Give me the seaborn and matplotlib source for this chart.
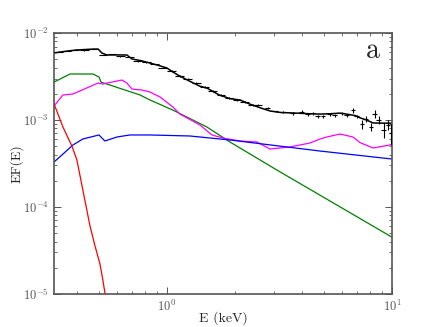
import numpy as np
import pandas as pd
import matplotlib
matplotlib.use("Agg")
import matplotlib.pyplot as plt
import seaborn as sns

# model components (E in keV, EF(E))
total_E = [0.315, 0.36, 0.398, 0.45, 0.494, 0.514, 0.541, 0.60, 0.664, 0.699, 0.77, 0.84,
           0.93, 1.0, 1.063, 1.14, 1.26, 1.40, 1.506, 1.70, 1.905, 2.11, 2.34, 2.6, 2.87,
           3.2, 3.78, 4.3, 4.79, 5.3, 5.87, 6.4, 6.9, 7.21, 7.7, 8.24, 9.0, 9.8, 10.0]
total_F = [5.9e-3, 6.2e-3, 6.38e-3, 6.5e-3, 6.55e-3, 5.89e-3, 5.59e-3, 5.6e-3, 5.59e-3, 5.03e-3, 4.8e-3, 4.52e-3,
           4.2e-3, 3.96e-3, 3.56e-3, 3.2e-3, 2.8e-3, 2.45e-3, 2.33e-3, 1.95e-3, 1.76e-3, 1.70e-3, 1.52e-3, 1.38e-3, 1.27e-3,
           1.22e-3, 1.20e-3, 1.18e-3, 1.17e-3, 1.18e-3, 1.20e-3, 1.16e-3, 1.12e-3, 1.06e-3, 1.0e-3, 9.25e-4, 9.2e-4, 9.2e-4, 9.2e-4]

green_E = [0.315, 0.371, 0.469, 0.499, 0.509, 0.541, 0.759, 0.84, 1.063, 1.506, 1.905, 3.08, 10.0]
green_F = [2.73e-3, 3.38e-3, 3.38e-3, 3.12e-3, 2.73e-3, 2.59e-3, 1.94e-3, 1.70e-3, 1.30e-3, 8.3e-4, 5.59e-4, 2.66e-4, 4.5e-5]

magenta_E = [0.315, 0.345, 0.382, 0.494, 0.519, 0.541, 0.631, 0.664, 0.699, 0.774, 0.84, 0.931, 1.063, 1.142,
             1.402, 1.585, 1.774, 2.11, 2.51, 2.87, 3.52, 4.32, 4.79, 5.14, 5.87, 6.71, 7.21, 8.24, 9.8, 10.0]
magenta_F = [1.45e-3, 1.94e-3, 1.99e-3, 2.66e-3, 2.59e-3, 2.66e-3, 2.88e-3, 2.66e-3, 2.27e-3, 2.21e-3, 2.10e-3, 1.84e-3, 1.41e-3, 1.17e-3,
             8.77e-4, 6.73e-4, 6.21e-4, 5.74e-4, 5.59e-4, 4.64e-4, 4.90e-4, 5.44e-4, 6.05e-4, 6.38e-4, 6.9e-4, 6.38e-4, 5.5e-4, 4.77e-4, 5.16e-4, 5.3e-4]

blue_E = [0.315, 0.35, 0.382, 0.423, 0.499, 0.514, 0.53, 0.60, 0.685, 0.84, 1.265, 1.905, 4.79, 10.0]
blue_F = [3.29e-4, 4.2e-4, 5.16e-4, 6.05e-4, 6.73e-4, 6.21e-4, 5.74e-4, 6.38e-4, 6.73e-4, 6.73e-4, 6.55e-4, 5.89e-4, 4.40e-4, 3.56e-4]

red_E = [0.315, 0.345, 0.378, 0.398, 0.428, 0.455, 0.479, 0.504, 0.519, 0.53, 0.536]
red_F = [1.53e-3, 8.3e-4, 5.03e-4, 3.47e-4, 1.34e-4, 6.05e-5, 3.56e-5, 2.21e-5, 1.45e-5, 1.03e-5, 8.5e-6]

# data points
data_E = [0.33, 0.36, 0.39, 0.43, 0.47, 0.52, 0.57, 0.62, 0.68, 0.74, 0.81, 0.88, 0.96, 1.05,
          1.14, 1.24, 1.35, 1.47, 1.60, 1.74, 1.89, 2.05, 2.22, 2.40, 2.54, 2.81, 3.04, 3.28,
          3.63, 3.98, 4.23, 4.46, 4.69, 4.94, 5.30, 5.58, 5.99, 6.31, 6.71, 6.99, 7.36, 7.66,
          8.07, 8.40, 8.75, 9.21, 9.6, 9.9]
data_F = [6.1e-3, 6.2e-3, 6.45e-3, 6.3e-3, 6.6e-3, 5.6e-3, 5.75e-3, 5.4e-3, 5.3e-3, 4.75e-3, 4.6e-3, 4.4e-3, 4.0e-3, 3.7e-3,
          3.2e-3, 2.95e-3, 2.65e-3, 2.4e-3, 2.15e-3, 1.95e-3, 1.78e-3, 1.68e-3, 1.62e-3, 1.48e-3, 1.49e-3, 1.37e-3, 1.26e-3, 1.24e-3,
          1.20e-3, 1.24e-3, 1.17e-3, 1.20e-3, 1.11e-3, 1.11e-3, 1.17e-3, 1.14e-3, 1.20e-3, 1.14e-3, 1.30e-3, 1.11e-3, 9.0e-4, 1.03e-3,
          8.3e-4, 1.17e-3, 1.0e-3, 7.7e-4, 8.8e-4, 7.1e-4]
data_relerr = [0.01] * 14 + [0.02] * 14 + [0.04] * 10 + [0.07, 0.04, 0.12, 0.08, 0.11, 0.11, 0.1, 0.2, 0.13, 0.27]
data_halfbin = [0.045] * 25 + [0.025] * 23

sns.set_style("ticks")
plt.rcParams["font.family"] = ["cmr10", "DejaVu Serif"]
plt.rcParams["mathtext.fontset"] = "cm"
plt.rcParams["axes.formatter.use_mathtext"] = True

fig, ax = plt.subplots(figsize=(4.36, 3.27), dpi=100)
fig.subplots_adjust(left=0.124, right=0.899, bottom=0.101, top=0.899)

E = np.array(data_E)
F = np.array(data_F)
ax.errorbar(E, F, xerr=E * np.array(data_halfbin), yerr=F * np.array(data_relerr),
            fmt="none", ecolor="black", elinewidth=0.8, capsize=0, zorder=3)

curves = [(total_E, total_F, "black", 1.1), (green_E, green_F, "green", 0.9),
          (magenta_E, magenta_F, "magenta", 0.9), (blue_E, blue_F, "blue", 0.9),
          (red_E, red_F, "red", 0.9)]
for xs, ys, c, lw in curves:
    df = pd.DataFrame({"E": xs, "F": ys})
    sns.lineplot(data=df, x="E", y="F", color=c, linewidth=lw, ax=ax, sort=False, estimator=None)

ax.set_xscale("log")
ax.set_yscale("log")
ax.set_xlim(0.315, 10)
ax.set_ylim(1e-5, 1e-2)
ax.set_xlabel("E (keV)", fontsize=10, labelpad=-2)
ax.set_ylabel("EF(E)", fontsize=10, labelpad=0)

ax.tick_params(which="both", direction="in", top=True, right=True, labelsize=9,
               labelcolor="#555555", color="#555555")
ax.tick_params(which="major", length=5, width=0.7)
ax.tick_params(which="minor", length=2.5, width=0.6)
for sp in ax.spines.values():
    sp.set_color("#555555")
    sp.set_linewidth(1.2)

ax.text(0.964, 0.904, "a", transform=ax.transAxes, fontsize=20, ha="right", va="baseline")

fig.savefig("out.png", dpi=100)
